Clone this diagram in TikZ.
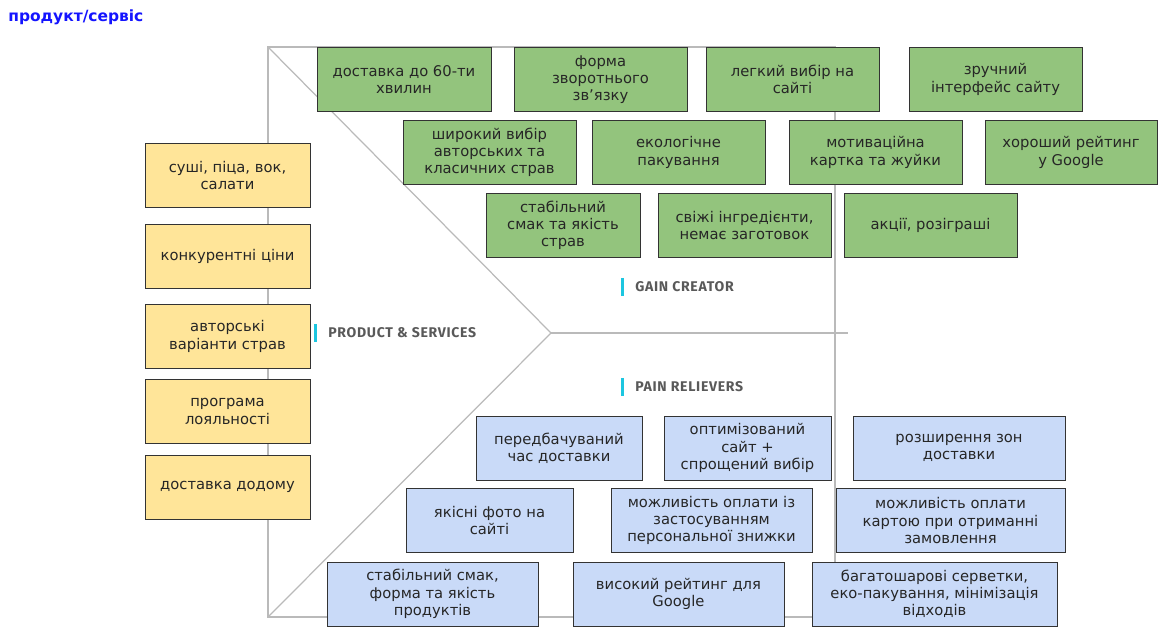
\documentclass[tikz,border=0pt]{standalone}
\usepackage{fontspec}
\setmainfont{DejaVu Sans}
\newfontfamily\sectionfont{Fira Sans}
\usepackage{tikz}
\usetikzlibrary{positioning}
\definecolor{gaingreen}{HTML}{93C47D}
\definecolor{painblue}{HTML}{C9DAF8}
\definecolor{prodyellow}{HTML}{FFE599}
\definecolor{titleblue}{HTML}{1414FF}
\definecolor{barcyan}{HTML}{1CC6E0}

\begin{document}
\begin{tikzpicture}[x=0.02cm,y=-0.02cm]
 \tikzstyle{card}=[rectangle,draw=black!80,line width=0.5pt,text centered,align=center,
   minimum height=1.28cm,inner sep=2pt,text=black!85,font=\fontsize{8.4}{9.8}\selectfont]
 \tikzstyle{gain}=[card,fill=gaingreen,minimum width=3.46cm]
 \tikzstyle{pain}=[card,fill=painblue]
 \tikzstyle{prod}=[card,fill=prodyellow,minimum width=3.3cm]
 \tikzstyle{frame}=[draw=black!27,line width=0.7pt]
 \tikzstyle{section}=[anchor=west,inner sep=0pt,minimum height=10pt,text=black!65,
   font=\sectionfont\bfseries\fontsize{8}{9}\selectfont\addfontfeature{LetterSpace=5}]
 \tikzstyle{sectionbar}=[draw=barcyan,line width=1.6pt]
 \useasboundingbox (0,0) rectangle (1166,626);

 \node (title) [anchor=west,inner sep=0pt,text=titleblue,font=\bfseries\fontsize{8.8}{10}\selectfont]
   at (8,17) {продукт/сервіс};

 % canvas outline
 \coordinate (tl) at (268,47);
 \coordinate (tr) at (835,47);
 \coordinate (bl) at (268,617);
 \coordinate (br) at (835,617);
 \coordinate (apex) at (551,333);
 \coordinate (mr) at (848,333);
 \draw[frame] (tl) -- (tr) -- (br) -- (bl) -- cycle;
 \draw[frame] (tl) -- (apex) -- (bl);
 \draw[frame] (apex) -- (mr);

 % products & services
 \node (p1) [prod] at (227.5,175.5) {суші, піца, вок,\\салати};
 \node (p2) [prod] at (227.5,256) {конкурентні ціни};
 \node (p3) [prod] at (227.5,336.5) {авторські\\варіанти страв};
 \node (p4) [prod] at (227.5,411.5) {програма\\лояльності};
 \node (p5) [prod] at (227.5,487) {доставка додому};

 % gain creators
 \node (g1) [gain,minimum width=3.48cm] at (404,79.5) {доставка до 60-ти\\хвилин};
 \node (g2) [gain] at (600.5,79.5) {форма\\зворотнього\\зв’язку};
 \node (g3) [gain] at (792.5,79.5) {легкий вибір на\\сайті};
 \node (g4) [gain] at (995.5,79.5) {зручний\\інтерфейс сайту};
 \node (g5) [gain] at (489.5,152.5) {широкий вибір\\авторських та\\класичних страв};
 \node (g6) [gain] at (678.5,152.5) {екологічне\\пакування};
 \node (g7) [gain] at (875.5,152.5) {мотиваційна\\картка та жуйки};
 \node (g8) [gain,minimum width=3.44cm] at (1071,152.5) {хороший рейтинг\\у Google};
 \node (g9) [gain,minimum width=3.08cm] at (563,225.5) {стабільний\\смак та якість\\страв};
 \node (g10) [gain] at (744.5,225.5) {свіжі інгредієнти,\\немає заготовок};
 \node (g11) [gain] at (930.5,225.5) {акції, розіграші};

 % pain relievers
 \node (b1) [pain,minimum width=3.32cm] at (559,448) {передбачуваний\\час доставки};
 \node (b2) [pain,minimum width=3.34cm] at (747.5,448) {оптимізований\\сайт +\\спрощений вибір};
 \node (b3) [pain,minimum width=4.24cm] at (959,448) {розширення зон\\доставки};
 \node (b4) [pain,minimum width=3.34cm] at (489.5,520.5) {якісні фото на\\сайті};
 \node (b5) [pain,minimum width=4.02cm] at (711.5,520.5) {можливість оплати із\\застосуванням\\персональної знижки};
 \node (b6) [pain,minimum width=4.58cm] at (950.5,520.5) {можливість оплати\\картою при отриманні\\замовлення};
 \node (b7) [pain,minimum width=4.22cm] at (432.5,594) {стабільний смак,\\форма та якість\\продуктів};
 \node (b8) [pain,minimum width=4.22cm] at (678.5,594) {високий рейтинг для\\Google};
 \node (b9) [pain,minimum width=4.9cm] at (934.5,594) {багатошарові серветки,\\еко-пакування, мінімізація\\відходів};

 % section labels
 \node (prodlabel) [section] at (328,333) {PRODUCT \& SERVICES};
 \node (gainlabel) [section] at (635,287) {GAIN CREATOR};
 \node (painlabel) [section] at (635,387) {PAIN RELIEVERS};
 \draw[sectionbar] ([xshift=-7pt]prodlabel.north west) -- ([xshift=-7pt]prodlabel.south west);
 \draw[sectionbar] ([xshift=-7pt]gainlabel.north west) -- ([xshift=-7pt]gainlabel.south west);
 \draw[sectionbar] ([xshift=-7pt]painlabel.north west) -- ([xshift=-7pt]painlabel.south west);
\end{tikzpicture}
\end{document}
